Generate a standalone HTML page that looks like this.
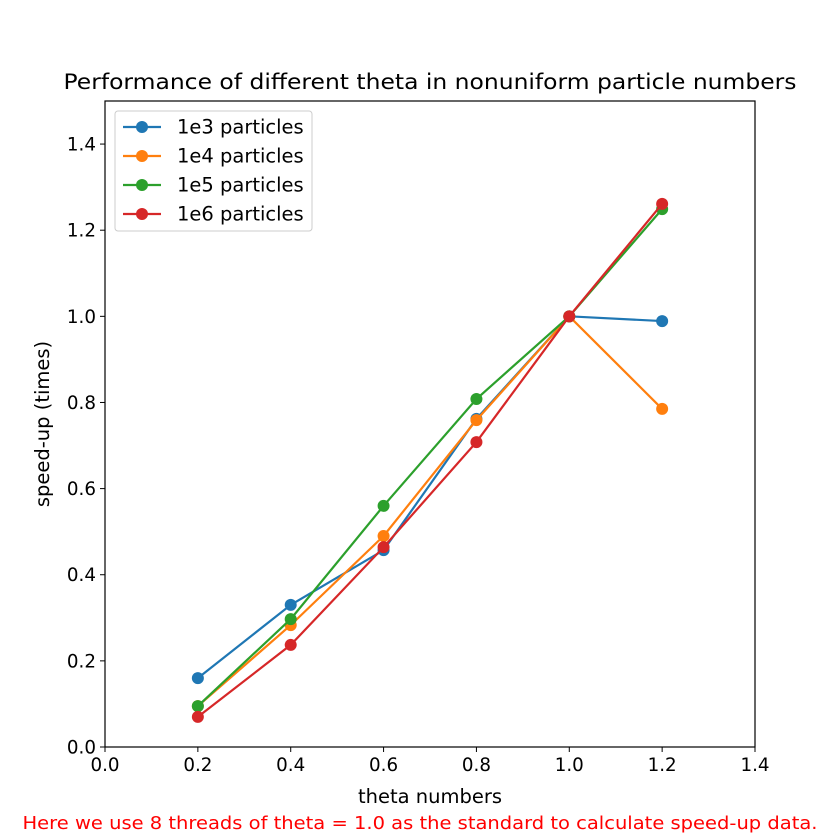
<!DOCTYPE html>
<html><head><meta charset="utf-8"><style>
body{margin:0;background:#fff;}
svg{display:block;font-family:"DejaVu Sans","Liberation Sans",sans-serif;}
</style></head><body>
<svg id="chart" width="840" height="840" xmlns="http://www.w3.org/2000/svg"></svg>
<script>
const categories=[0.2,0.4,0.6,0.8,1.0,1.2];
const s1e3=[0.160,0.330,0.457,0.762,1.0,0.989];
const s1e4=[0.095,0.283,0.490,0.759,1.0,0.785];
const s1e5=[0.095,0.297,0.560,0.808,1.0,1.249];
const s1e6=[0.070,0.237,0.464,0.708,1.0,1.261];
const seriesNames=["1e3 particles","1e4 particles","1e5 particles","1e6 particles"];
const xTicks=["0.0","0.2","0.4","0.6","0.8","1.0","1.2","1.4"];
const yTicks=["0.0","0.2","0.4","0.6","0.8","1.0","1.2","1.4"];
const colors=["#1f77b4","#ff7f0e","#2ca02c","#d62728"];
const allSeries=[s1e3,s1e4,s1e5,s1e6];

const NS="http://www.w3.org/2000/svg";
const svg=document.getElementById('chart');
const L=105,R=755,T=101,B=747;
const x=v=>L+(v/1.4)*(R-L);
const y=v=>B-(v/1.5)*(B-T);
function mk(tag,attrs,parent){const e=document.createElementNS(NS,tag);for(const k in attrs)e.setAttribute(k,attrs[k]);(parent||svg).appendChild(e);return e;}

const title=mk('text',{x:430,y:89,'text-anchor':'middle','font-size':'21',fill:'#000',textLength:733,lengthAdjust:'spacingAndGlyphs'});


title.textContent="Performance of different theta in nonuniform particle numbers";

const xg=mk('g',{});


xTicks.forEach(t=>{const v=parseFloat(t);const px=x(v);
 mk('line',{x1:px,x2:px,y1:B,y2:B+5,stroke:'#000','stroke-width':1},xg);
 const tx=mk('text',{x:px,y:B+24,'text-anchor':'middle','font-size':'18.3'},xg);
 
 
 tx.textContent=t;});
const yg=mk('g',{});


yTicks.forEach(t=>{const v=parseFloat(t);const py=y(v);
 mk('line',{x1:L-5,x2:L,y1:py,y2:py,stroke:'#000','stroke-width':1},yg);
 const tx=mk('text',{x:L-9,y:py+6.5,'text-anchor':'end','font-size':'18.3'},yg);
 
 
 tx.textContent=t;});

const xt=mk('text',{x:430,y:803,'text-anchor':'middle','font-size':'19.5'});


xt.textContent="theta numbers";
const yt=mk('text',{x:0,y:0,'text-anchor':'middle','font-size':'19.5',transform:'translate(49,424) rotate(-90)'});


yt.textContent="speed-up (times)";

allSeries.forEach((s,i)=>{
 const g=mk('g',{});
 
 
 mk('polyline',{points:s.map((v,j)=>x(categories[j])+','+y(v)).join(' '),fill:'none',stroke:colors[i],'stroke-width':2.2},g);
 s.forEach((v,j)=>{const c=mk('circle',{cx:x(categories[j]),cy:y(v),r:6,fill:colors[i]},g);
  
  });
});

mk('rect',{x:L,y:T,width:R-L,height:B-T,fill:'none',stroke:'#000','stroke-width':1.2});

const lg=mk('g',{});


mk('rect',{x:115,y:111,width:197,height:120,rx:3,fill:'#fff',stroke:'#ccc','stroke-width':1},lg);
seriesNames.forEach((n,i)=>{const py=127+i*29;
 const e=mk('g',{},lg);
 
 
 mk('line',{x1:123,x2:161,y1:py,y2:py,stroke:colors[i],'stroke-width':2.2},e);
 mk('circle',{cx:142,cy:py,r:6,fill:colors[i]},e);
 const t=mk('text',{x:177,y:py+6.5,'font-size':'19.5'},e);t.textContent=n;});

const note=mk('text',{x:420,y:829,'text-anchor':'middle','font-size':'17.5',fill:'#ff0000',textLength:795,lengthAdjust:'spacingAndGlyphs'});


note.textContent="Here we use 8 threads of theta = 1.0 as the standard to calculate speed-up data.";
</script>
</body></html>
